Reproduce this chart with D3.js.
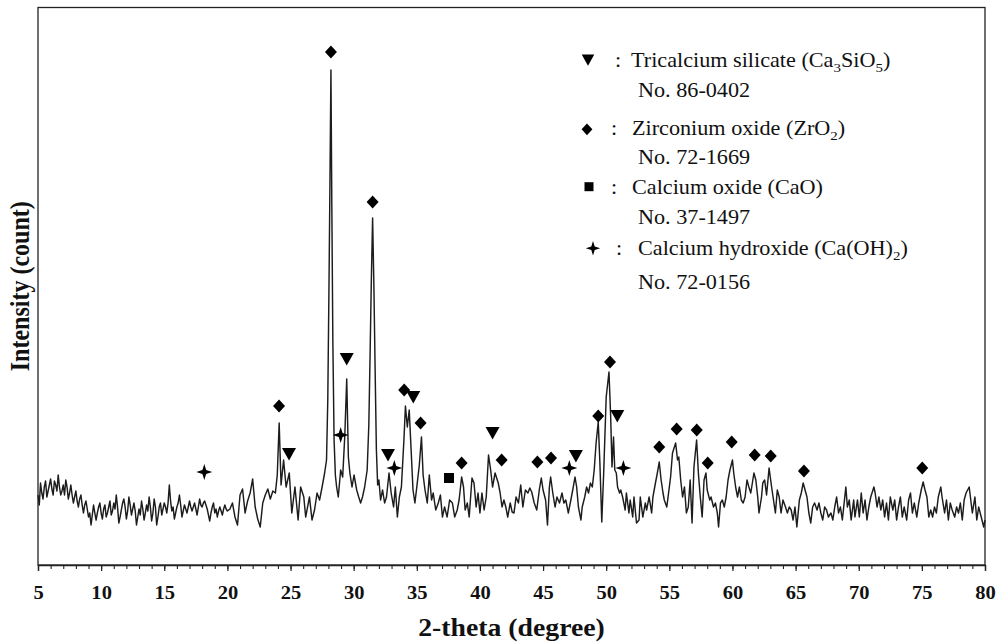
<!DOCTYPE html>
<html>
<head>
<meta charset="utf-8">
<script src="https://cdn.jsdelivr.net/npm/d3@7"></script>
<style>
  html, body { margin: 0; padding: 0; background: #fff; }
  svg { display: block; font-family: "Liberation Serif", "Times New Roman", serif; }
</style>
</head>
<body>
<svg id="xrd" width="1002" height="643"></svg>
<script>
// XRD scan: [2-theta (deg), intensity (count)]
const scan05to20 = [
  [5.0,70],[5.1,60],[5.2,82],[5.3,72],[5.4,66],[5.5,78],[5.6,84],[5.7,68],[5.8,74],[5.9,80],
  [6.0,86],[6.1,76],[6.2,70],[6.3,84],[6.4,80],[6.5,74],[6.6,90],[6.7,78],[6.8,70],[6.9,74],
  [7.0,80],[7.1,70],[7.2,85],[7.3,78],[7.4,66],[7.5,72],[7.6,80],[7.7,70],[7.8,62],[7.9,68],
  [8.0,74],[8.1,64],[8.2,58],[8.3,66],[8.4,70],[8.5,60],[8.6,52],[8.7,60],[8.8,64],[8.9,56],
  [9.0,48],[9.1,52],[9.2,40],[9.3,50],[9.4,60],[9.5,52],[9.6,45],[9.7,52],[9.8,58],[9.9,62],
  [10.0,52],[10.1,46],[10.2,56],[10.3,60],[10.4,48],[10.5,52],[10.6,58],[10.7,64],[10.8,50],[10.9,54],
  [11.0,62],[11.1,56],[11.2,70],[11.3,58],[11.4,42],[11.5,48],[11.6,55],[11.7,62],[11.8,66],[11.9,58],
  [12.0,46],[12.1,54],[12.2,68],[12.3,60],[12.4,50],[12.5,56],[12.6,62],[12.7,54],[12.8,40],[12.9,48],
  [13.0,56],[13.1,50],[13.2,64],[13.3,56],[13.4,45],[13.5,52],[13.6,60],[13.7,54],[13.8,68],[13.9,58],
  [14.0,44],[14.1,52],[14.2,66],[14.3,58],[14.4,40],[14.5,48],[14.6,58],[14.7,62],[14.8,50],[14.9,56],
  [15.0,62],[15.1,58],[15.2,52],[15.3,62],[15.4,80],[15.5,64],[15.6,54],[15.7,58],[15.8,46],[15.9,52],
  [16.0,58],[16.1,62],[16.2,70],[16.3,60],[16.4,48],[16.5,54],[16.6,60],[16.7,56],[16.8,52],[16.9,58],
  [17.0,64],[17.1,58],[17.2,54],[17.3,58],[17.4,62],[17.5,56],[17.6,50],[17.7,58],[17.8,66],[17.9,60],
  [18.0,58],[18.1,62],[18.2,64],[18.3,60],[18.4,56],[18.5,50],[18.6,44],[18.7,52],[18.8,58],[18.9,62],
  [19.0,52],[19.1,56],[19.2,48],[19.3,54],[19.4,58],[19.5,54],[19.6,50],[19.7,56],[19.8,60],[19.9,56]
];
const scan20to35 = [
  [20.0,54],[20.2,56],[20.4,62],[20.6,48],[20.8,40],[21.0,70],[21.2,76],[21.4,52],[21.6,64],[21.8,72],
  [22.0,86],[22.2,58],[22.4,46],[22.6,38],[22.8,62],[23.0,70],[23.2,76],[23.4,66],[23.6,74],[23.8,72],
  [23.95,90],[24.1,142],[24.25,80],[24.45,105],[24.65,78],[24.9,92],[25.1,52],[25.35,78],[25.6,45],[25.8,78],
  [26.05,68],[26.2,48],[26.5,68],[26.7,45],[26.9,55],[27.1,72],[27.3,65],[27.5,78],[27.7,92],[27.85,105],
  [27.95,165],[28.05,285],[28.12,380],[28.2,495],[28.27,360],[28.35,225],[28.45,125],[28.55,90],[28.65,78],[28.78,68],
  [28.97,95],[29.13,88],[29.3,130],[29.45,186],[29.58,108],[29.7,92],[29.87,78],[30.03,90],[30.24,75],[30.4,68],
  [30.55,62],[30.7,68],[30.87,78],[31.07,95],[31.2,140],[31.3,210],[31.4,285],[31.5,347],[31.6,280],[31.7,195],
  [31.8,115],[31.9,80],[32.0,85],[32.13,65],[32.29,75],[32.45,62],[32.6,68],[32.8,92],[32.97,72],[33.16,58],
  [33.3,78],[33.46,48],[33.62,68],[33.78,78],[33.98,125],[34.1,159],[34.25,138],[34.4,155],[34.55,115],[34.7,75],
  [34.85,62]
];
const scan35to50 = [
  [35.0,78],[35.2,100],[35.37,128],[35.5,90],[35.65,75],[35.83,62],[35.99,90],[36.17,65],[36.3,72],[36.5,55],
  [36.7,62],[36.87,70],[37.03,48],[37.2,58],[37.4,48],[37.6,65],[37.82,62],[38.0,48],[38.2,55],[38.35,65],
  [38.55,88],[38.7,78],[38.83,55],[39.0,62],[39.15,48],[39.37,87],[39.53,82],[39.7,58],[39.85,72],[40.0,52],
  [40.16,72],[40.33,55],[40.5,68],[40.68,110],[40.85,95],[41.0,78],[41.2,92],[41.45,82],[41.6,72],[41.75,58],
  [41.9,65],[42.05,58],[42.2,48],[42.4,62],[42.55,53],[42.7,52],[42.86,68],[43.05,62],[43.23,80],[43.4,58],
  [43.6,75],[43.8,72],[43.95,77],[44.1,73],[44.3,62],[44.5,55],[44.7,75],[44.86,87],[45.0,75],[45.2,65],
  [45.35,40],[45.5,78],[45.6,88],[45.77,72],[45.95,58],[46.1,68],[46.3,62],[46.5,72],[46.65,62],[46.8,65],
  [47.0,52],[47.2,65],[47.35,75],[47.53,88],[47.66,78],[47.8,58],[48.0,45],[48.1,58],[48.3,68],[48.45,78],
  [48.6,72],[48.75,82],[48.9,78],[49.05,95],[49.2,122],[49.37,143],[49.5,102],[49.65,43],[49.8,92]
];
const scan50to65 = [
  [50.0,168],[50.22,193],[50.35,150],[50.46,98],[50.58,128],[50.68,95],[50.8,92],[50.9,78],[51.06,72],[51.15,75],
  [51.3,68],[51.5,55],[51.6,72],[51.8,52],[51.9,65],[52.1,48],[52.2,68],[52.4,42],[52.6,45],[52.7,68],
  [52.9,48],[53.1,62],[53.2,55],[53.4,68],[53.6,52],[53.7,68],[53.9,82],[54.05,92],[54.2,103],[54.35,85],
  [54.5,72],[54.6,65],[54.8,58],[54.9,68],[55.1,88],[55.25,112],[55.5,122],[55.65,105],[55.75,108],[55.9,85],
  [56.05,68],[56.2,78],[56.35,52],[56.5,58],[56.65,85],[56.8,42],[56.95,98],[57.16,125],[57.3,92],[57.45,68],
  [57.6,48],[57.75,85],[57.9,92],[58.0,75],[58.2,65],[58.3,68],[58.5,58],[58.65,62],[58.8,52],[58.9,38],
  [59.05,62],[59.2,65],[59.35,58],[59.5,68],[59.65,85],[59.8,95],[60.0,105],[60.1,92],[60.25,78],[60.4,68],
  [60.55,78],[60.7,65],[60.85,62],[61.0,68],[61.15,85],[61.3,78],[61.45,72],[61.7,92],[61.85,85],[62.0,68],
  [62.1,52],[62.3,68],[62.4,82],[62.55,85],[62.7,70],[62.9,97],[63.1,78],[63.25,65],[63.4,52],[63.55,75],
  [63.7,68],[63.85,52],[64.0,65],[64.2,58],[64.35,52],[64.5,58],[64.65,55],[64.8,45],[64.95,58]
];
const scan65to80 = [
  [65.1,38],[65.3,65],[65.45,72],[65.6,82],[65.75,75],[65.9,68],[66.05,52],[66.2,42],[66.35,58],[66.5,62],
  [66.7,55],[66.85,62],[67.0,52],[67.15,45],[67.3,58],[67.45,55],[67.6,48],[67.8,52],[67.95,45],[68.1,58],
  [68.25,68],[68.4,52],[68.55,58],[68.7,45],[68.98,78],[69.1,58],[69.25,65],[69.4,45],[69.6,65],[69.7,48],
  [69.9,65],[70.05,48],[70.2,72],[70.35,52],[70.5,65],[70.65,45],[70.8,58],[70.95,68],[71.2,78],[71.3,72],
  [71.45,58],[71.6,68],[71.75,55],[71.9,65],[72.05,48],[72.2,62],[72.35,45],[72.5,68],[72.7,55],[72.85,65],
  [73.0,45],[73.15,58],[73.3,68],[73.45,48],[73.6,58],[73.8,45],[73.95,65],[74.1,72],[74.25,52],[74.4,62],
  [74.6,48],[74.75,62],[74.95,75],[75.1,83],[75.25,75],[75.4,68],[75.55,48],[75.7,55],[75.85,48],[76.0,58],
  [76.15,52],[76.3,68],[76.5,78],[76.6,68],[76.8,52],[76.95,65],[77.1,45],[77.25,62],[77.4,55],[77.6,48],
  [77.75,58],[77.9,52],[78.05,62],[78.2,45],[78.35,65],[78.5,72],[78.75,78],[78.9,62],[79.0,52],[79.2,68],
  [79.35,45],[79.5,58],[79.7,48],[79.9,38],[80.0,45]
];

// phase markers: [2-theta, intensity level of the symbol]
const tricalciumSilicate = [[24.88,111],[29.45,206],[32.72,110],[34.72,168],[41.0,132],[47.6,109],[50.88,149]];
const zirconiumOxide = [[24.09,159],[28.2,513],[31.5,363],[34.0,175],[35.3,142],[38.55,102],[41.72,105],[44.55,103],
  [45.63,107],[49.37,149],[50.3,203],[54.2,118],[55.58,136],[57.17,135],[58.04,102],[59.94,123],[61.76,110],
  [63.03,109],[65.66,94],[75.03,97]];
const calciumOxide = [[37.55,87]];
const calciumHydroxide = [[18.17,93],[28.97,130],[33.22,97],[47.08,97],[51.36,97]];

const xTicks = [5,10,15,20,25,30,35,40,45,50,55,60,65,70,75,80];
const xLabel = "2-theta (degree)";
const yLabel = "Intensity (count)";

// legend text, parts in [] are subscripts
const legendNames = [
  ["Tricalcium silicate (Ca", ["3"], "SiO", ["5"], ")"],
  ["Zirconium oxide (ZrO", ["2"], ")"],
  ["Calcium oxide (CaO)"],
  ["Calcium hydroxide (Ca(OH)", ["2"], ")"]
];
const legendCards = ["No. 86-0402", "No. 72-1669", "No. 37-1497", "No. 72-0156"];

const svg = d3.select("#xrd");
const W = +svg.attr("width"), H = +svg.attr("height");
const M = { top: 7.5, right: 17, bottom: 78, left: 38 };
const innerW = W - M.left - M.right, innerH = H - M.top - M.bottom;
const g = svg.append("g").attr("transform", `translate(${M.left},${M.top})`);
const STRETCH = 1.11; // picture text is a bit wider than tall

const x = d3.scaleLinear().domain([5, 80]).range([0, innerW]);
const y = d3.scaleLinear().domain([0, innerH]).range([innerH, 0]);

// symbols
const shapes = {
  tri: "M-7,-6L7,-6L0,6.5Z",
  dia: "M0,-6.5L6,0L0,6.5L-6,0Z",
  sq: "M-5,-5H5V5H-5Z",
  star: "M0,-8L1.9,-1.9L8,0L1.9,1.9L0,8L-1.9,1.9L-8,0L-1.9,-1.9Z"
};

// trace
const scan = [].concat(scan05to20, scan20to35, scan35to50, scan50to65, scan65to80);
const line = d3.line().x(d => x(d[0])).y(d => y(d[1]));
g.append("path").datum(scan)
  .attr("fill", "none").attr("stroke", "#1c1c1c").attr("stroke-width", 1.45)
  .attr("stroke-linejoin", "round")
  .attr("d", line);

// markers
[[tricalciumSilicate, "tri"], [zirconiumOxide, "dia"], [calciumOxide, "sq"], [calciumHydroxide, "star"]]
  .forEach(([pts, s]) => {
    g.selectAll(null).data(pts).join("path")
      .attr("transform", d => `translate(${x(d[0])},${y(d[1])})`)
      .attr("d", shapes[s]).attr("fill", "#000");
  });

// frame
g.append("rect").attr("width", innerW).attr("height", innerH)
  .attr("fill", "none").attr("stroke", "#222").attr("stroke-width", 1.3);

// x axis: minor every degree, major every 5
g.append("g").attr("transform", `translate(0,${innerH})`)
  .call(d3.axisBottom(x).tickValues(d3.range(5, 81, 1)).tickSize(4).tickFormat(""))
  .call(a => a.select(".domain").remove())
  .selectAll("line").attr("stroke", "#222").attr("stroke-width", 1.1);
const xa = g.append("g").attr("transform", `translate(0,${innerH})`)
  .call(d3.axisBottom(x).tickValues(xTicks).tickSize(6).tickFormat(d3.format("d")));
xa.select(".domain").attr("stroke", "#222").attr("stroke-width", 1.3);
xa.selectAll("line").attr("stroke", "#222").attr("stroke-width", 1.2);
xa.selectAll("text")
  .attr("y", 0).attr("dy", 0)
  .attr("transform", `translate(0,34) scale(${STRETCH},1)`)
  .attr("fill", "#111")
  .style("font-family", "Liberation Serif").style("font-size", "18.5px").style("font-weight", "bold");

// axis titles
svg.append("text")
  .attr("transform", `translate(${M.left + innerW / 2},636) scale(${STRETCH},1)`)
  .attr("text-anchor", "middle")
  .style("font-size", "25px").style("font-weight", "bold").attr("fill", "#111")
  .text(xLabel);
svg.append("text")
  .attr("transform", `translate(29,${M.top + innerH / 2}) scale(1.16,1) rotate(-90)`)
  .attr("text-anchor", "middle")
  .style("font-size", "24px").style("font-weight", "bold").attr("fill", "#111")
  .text(yLabel);

// legend
const legendRows = [
  { sym: "tri", mx: 588, my: 60, cx: 615, tx: 631, ty: 67, ny: 97 },
  { sym: "dia", mx: 587, my: 129.3, cx: 611, tx: 632, ty: 135, ny: 163.5 },
  { sym: "sq", mx: 589, my: 186.7, cx: 611, tx: 632, ty: 193.5, ny: 223.5 },
  { sym: "star", mx: 593, my: 248.3, cx: 616, tx: 638, ty: 255, ny: 288.5 }
];
const FS = 20;
legendRows.forEach((r, i) => {
  svg.append("path").attr("transform", `translate(${r.mx},${r.my}) scale(0.9)`)
    .attr("d", shapes[r.sym]).attr("fill", "#000");
  svg.append("text").attr("transform", `translate(${r.cx},${r.ty}) scale(${STRETCH},1)`)
    .style("font-size", FS + "px").attr("fill", "#111").text(":");
  const t = svg.append("text").attr("transform", `translate(${r.tx},${r.ty}) scale(${STRETCH},1)`)
    .style("font-size", FS + "px").attr("fill", "#111");
  let down = false;
  legendNames[i].forEach(p => {
    if (Array.isArray(p)) {
      t.append("tspan").attr("dy", 5).style("font-size", "13.5px").text(p[0]);
      down = true;
    } else {
      t.append("tspan").attr("dy", down ? -5 : 0).text(p);
      down = false;
    }
  });
  svg.append("text").attr("transform", `translate(638,${r.ny}) scale(${STRETCH},1)`)
    .style("font-size", FS + "px").attr("fill", "#111").text(legendCards[i]);
});
</script>
</body>
</html>
